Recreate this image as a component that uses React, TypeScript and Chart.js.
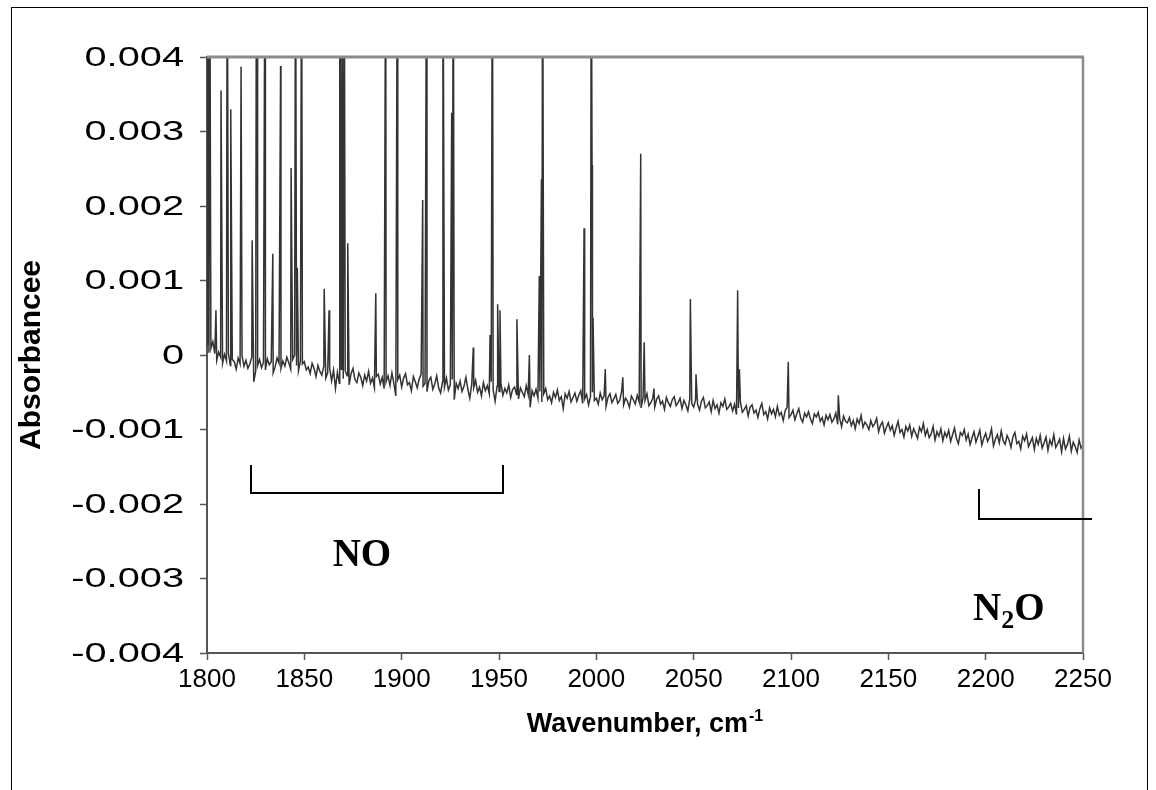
import React, { useEffect, useRef } from 'react';
import { Chart, registerables } from 'chart.js';

Chart.register(...registerables);

// ---------- DATA ----------
// Spectrum sampled every 1 cm-1 from 1800 to 2250, values in units of 1e-5 absorbance
const WN_START = 1800;
const WN_STEP = 1;
const VALUE_UNIT = 1e-5;

const baselineE5 = [
  14, 3, 9, 18, 2, -7, 4, -3, -11, 1,
  -8, 2, -14, -6, -9, -19, -4, -12, -1, -15,
  -7, -18, -12, -3, -36, -22, -14, -6, -17, -10,
  -20, -5, -13, -9, -24, -16, -4, -11, -18, -8,
  -15, -3, -10, -19, -6, 0, -14, -21, -8, -12,
  -9, -20, -16, -25, -11, -18, -29, -14, -22, -27,
  -15, -31, -24, -17, -35, -20, -45, -23, -38, -19,
  -32, -21, -28, -40, -25, -18, -33, -37, -24, -30,
  -41, -27, -35, -22, -38, -31, -44, -29, -26, -39,
  -30, -45, -36, -28, -41, -24, -38, -55, -33, -27,
  -43, -31, -25, -40, -37, -48, -29, -36, -44, -32,
  -26, -42, -38, -49, -34, -30, -46, -39, -28, -44,
  -51, -36, -43, -31, -47, -40, -33, -60, -38, -45,
  -35, -49, -42, -30, -46, -58, -39, -44, -34, -50,
  -43, -55, -37, -48, -41, -52, -36, -47, -62, -42,
  -49, -38, -54, -45, -51, -40, -57, -46, -43, -53,
  -59, -44, -50, -56, -41, -53, -70, -48, -55, -46,
  -58, -49, -63, -52, -45, -60, -55, -64, -50, -57,
  -47, -61, -56, -72, -52, -58, -49, -63, -57, -51,
  -62, -54, -48, -65, -59, -53, -67, -56, -50, -61,
  -58, -66, -51, -60, -55, -69, -57, -52, -64, -59,
  -53, -65, -61, -49, -67, -58, -62, -70, -55, -60,
  -66, -54, -63, -71, -57, -61, -52, -68, -64, -58,
  -70, -59, -55, -66, -62, -73, -57, -64, -69, -60,
  -56, -68, -64, -58, -72, -61, -67, -75, -59, -65,
  -70, -60, -66, -74, -62, -57, -71, -68, -63, -76,
  -61, -72, -67, -78, -64, -69, -59, -73, -70, -65,
  -75, -66, -80, -71, -63, -77, -73, -68, -82, -70,
  -67, -78, -74, -84, -72, -65, -80, -76, -86, -71,
  -79, -73, -83, -69, -81, -77, -88, -75, -70, -84,
  -80, -74, -87, -79, -72, -85, -90, -78, -83, -76,
  -86, -92, -79, -83, -77, -89, -84, -94, -81, -87,
  -80, -90, -86, -78, -93, -85, -96, -82, -89, -91,
  -84, -95, -88, -99, -86, -92, -81, -97, -90, -94,
  -100, -88, -96, -92, -85, -103, -94, -90, -105, -97,
  -91, -101, -95, -108, -98, -89, -104, -100, -110, -96,
  -102, -94, -109, -99, -105, -112, -97, -103, -92, -108,
  -100, -111, -106, -96, -114, -103, -109, -99, -115, -104,
  -110, -101, -116, -107, -98, -112, -119, -104, -108, -100,
  -114, -106, -120, -111, -103, -117, -109, -101, -121, -112,
  -105, -116, -110, -99, -122, -113, -107, -118, -102, -115,
  -120, -108, -114, -124, -110, -104, -119, -116, -126, -109,
  -115, -106, -123, -117, -111, -127, -112, -120, -108, -125,
  -118, -110, -128, -114, -121, -107, -124, -119, -113, -130,
  -112, -126, -120, -109, -129, -117, -123, -131, -114, -125,
  -121,
];

// Absorption lines (peak positions in cm-1 and peak heights in 1e-5 absorbance; off-scale lines exceed 0.004)
const spikeWn = [
  1800.4, 1801.4, 1804.6, 1807.2, 1810.4, 1812.2, 1817.5, 1823.2, 1825.4, 1825.8,
  1829.8, 1833.8, 1837.8, 1843.2, 1845.5, 1846.4, 1848.6, 1860.2, 1862.7, 1868.2,
  1869.3, 1870.5, 1872.3, 1886.7, 1891.8, 1897.8, 1910.8, 1912.8, 1921.2, 1925.7,
  1926.5, 1936.8, 1945.4, 1946.6, 1949.3, 1950.5, 1959.2, 1965.6, 1970.7, 1971.8,
  1972.4, 1993.7, 1997.4, 1997.8, 1998.3, 2004.6, 2013.6, 2022.8, 2024.6, 2029.6,
  2048.3, 2051.2, 2072.6, 2073.5, 2098.6, 2124.3,
];
const spikeE5 = [
  600, 600, 60, 355, 600, 330, 387, 154, 600, 600,
  600, 136, 388, 251, 600, 117, 600, 89, 60, 600,
  600, 600, 150, 83, 600, 600, 208, 600, 600, 325,
  600, 10, 27, 600, 68, 60, 48, 0, 106, 236,
  600, 170, 600, 255, 50, -19, -30, 270, 17, -45,
  75, -26, 87, -19, -9, -54,
];

// Axis settings
const X_MIN = 1800;
const X_MAX = 2250;
const X_STEP = 50;
const Y_MIN = -0.004;
const Y_MAX = 0.004;
const Y_STEP = 0.001;

// Annotations (in data coordinates)
const NO_BRACKET = { from: 1822.6, to: 1952, y: -0.00185, tickTop: -0.00148 };
const N2O_BRACKET = { from: 2196.6, to: 2254.6, y: -0.0022, tickTop: -0.0018 };
const NO_LABEL = { wn: 1879.6, abs: -0.0027 };
const N2O_LABEL = { wn: 2193.5, abs: -0.00356 };

const Y_TITLE = 'Absorbancee';
const X_TITLE = 'Wavenumber, cm';
const X_TITLE_SUP = '-1';

const SANS = '"Liberation Sans", Arial, sans-serif';
const SERIF = '"Liberation Serif", "Times New Roman", serif';

const fmtY = (v: number) => (Math.abs(v) < 1e-9 ? '0' : Number(v).toFixed(3));

export default function App() {
  const ref = useRef<HTMLCanvasElement | null>(null);

  useEffect(() => {
    const canvas = ref.current;
    if (!canvas) return;

    const points = [
      ...baselineE5.map((v, i) => ({ x: WN_START + i * WN_STEP, y: v * VALUE_UNIT })),
      ...spikeWn.map((w, i) => ({ x: w, y: spikeE5[i] * VALUE_UNIT })),
    ].sort((a, b) => a.x - b.x);

    const overlay = {
      id: 'overlay',
      afterDatasetsDraw(chart: any) {
        const { ctx, chartArea: a } = chart;
        ctx.save();
        ctx.strokeStyle = '#8c8c8c';
        ctx.lineWidth = 3;
        ctx.beginPath();
        ctx.moveTo(a.left, a.top);
        ctx.lineTo(a.right + 1, a.top);
        ctx.stroke();
        ctx.lineWidth = 2.5;
        ctx.beginPath();
        ctx.moveTo(a.right, a.top);
        ctx.lineTo(a.right, a.bottom);
        ctx.stroke();
        ctx.restore();
      },
      afterDraw(chart: any) {
        const { ctx, chartArea: a } = chart;
        const xs = chart.scales.x;
        const ys = chart.scales.y;
        ctx.save();
        ctx.fillStyle = '#000';

        // Y tick labels (wide lettering, right aligned)
        ctx.font = `28px ${SANS}`;
        ctx.textAlign = 'right';
        ctx.textBaseline = 'middle';
        for (const t of ys.ticks) {
          const py = ys.getPixelForValue(t.value);
          ctx.save();
          ctx.translate(a.left - 23, py + 1);
          ctx.scale(1.42, 1);
          ctx.fillText(fmtY(t.value), 0, 0);
          ctx.restore();
        }

        // X title with superscript
        ctx.font = `bold 27px ${SANS}`;
        const mainW = ctx.measureText(X_TITLE).width;
        ctx.font = `bold 16px ${SANS}`;
        const supW = ctx.measureText(X_TITLE_SUP).width;
        const total = mainW + supW + 1;
        const cx = (a.left + a.right) / 2;
        const bx = cx - total / 2;
        const by = a.bottom + 79;
        ctx.textBaseline = 'alphabetic';
        ctx.textAlign = 'left';
        ctx.font = `bold 27px ${SANS}`;
        ctx.fillText(X_TITLE, bx, by);
        ctx.font = `bold 16px ${SANS}`;
        ctx.fillText(X_TITLE_SUP, bx + mainW + 1, by - 11);

        // Y title rotated
        ctx.save();
        ctx.translate(32, (a.top + a.bottom) / 2);
        ctx.rotate(-Math.PI / 2);
        ctx.textAlign = 'center';
        ctx.textBaseline = 'middle';
        ctx.font = `bold 30px ${SANS}`;
        ctx.fillText(Y_TITLE, 0, 0);
        ctx.restore();

        // Brackets
        ctx.strokeStyle = '#000';
        ctx.lineWidth = 2;
        const drawBracket = (b: any, bothEnds: boolean) => {
          const x1 = Math.round(xs.getPixelForValue(b.from));
          const x2 = Math.round(xs.getPixelForValue(b.to));
          const y = Math.round(ys.getPixelForValue(b.y));
          const yt = Math.round(ys.getPixelForValue(b.tickTop));
          ctx.beginPath();
          ctx.moveTo(x1, yt);
          ctx.lineTo(x1, y);
          ctx.lineTo(x2, y);
          if (bothEnds) ctx.lineTo(x2, yt);
          ctx.stroke();
        };
        drawBracket(NO_BRACKET, true);
        drawBracket(N2O_BRACKET, false);

        // NO label
        ctx.font = `bold 39px ${SERIF}`;
        ctx.textAlign = 'center';
        ctx.textBaseline = 'middle';
        ctx.fillText('NO', xs.getPixelForValue(NO_LABEL.wn), ys.getPixelForValue(NO_LABEL.abs));

        // N2O label with subscript
        ctx.textAlign = 'left';
        ctx.textBaseline = 'alphabetic';
        let lx = xs.getPixelForValue(N2O_LABEL.wn);
        const ly = ys.getPixelForValue(N2O_LABEL.abs);
        ctx.font = `bold 39px ${SERIF}`;
        ctx.fillText('N', lx, ly);
        lx += ctx.measureText('N').width;
        ctx.font = `bold 26px ${SERIF}`;
        ctx.fillText('2', lx, ly + 8);
        lx += ctx.measureText('2').width;
        ctx.font = `bold 39px ${SERIF}`;
        ctx.fillText('O', lx, ly);

        ctx.restore();
      },
    };

    const chart = new Chart(canvas, {
      type: 'line',
      data: {
        datasets: [
          {
            data: points,
            borderColor: '#333333',
            borderWidth: 1.5,
            pointRadius: 0,
            tension: 0,
            fill: false,
          },
        ],
      },
      options: {
        responsive: false,
        animation: false,
        devicePixelRatio: 1,
        layout: { padding: { left: 0, top: 57, right: 73, bottom: 0 } },
        plugins: { legend: { display: false }, tooltip: { enabled: false }, title: { display: false } },
        scales: {
          x: {
            type: 'linear',
            min: X_MIN,
            max: X_MAX,
            ticks: {
              stepSize: X_STEP,
              color: '#000',
              font: { family: SANS, size: 26 },
              padding: 4,
              maxRotation: 0,
              autoSkip: false,
              callback: (v: any) => String(v),
            },
            grid: { drawOnChartArea: false, tickLength: 7, color: '#555', tickWidth: 1.5 },
            border: { color: '#555', width: 2 },
            afterFit: (s: any) => {
              s.height = 137;
            },
          },
          y: {
            type: 'linear',
            min: Y_MIN,
            max: Y_MAX,
            ticks: {
              stepSize: Y_STEP,
              display: false,
            },
            grid: { drawOnChartArea: false, drawTicks: true, tickLength: 7, color: '#555', tickWidth: 1.5 },
            border: { color: '#555', width: 2 },
            afterFit: (s: any) => {
              s.width = 207;
            },
          },
        },
      },
      plugins: [overlay],
    } as any);

    return () => chart.destroy();
  }, []);

  return (
    <div style={{ position: 'absolute', left: 0, top: 0, width: 1156, height: 790, overflow: 'hidden', background: '#fff' }}>
      <canvas ref={ref} width={1156} height={790} style={{ position: 'absolute', left: 0, top: 0, width: 1156, height: 790 }} />
      <div
        style={{
          position: 'absolute',
          left: 11,
          top: 7,
          width: 1135,
          height: 800,
          border: '1px solid #000',
          pointerEvents: 'none',
        }}
      />
    </div>
  );
}
